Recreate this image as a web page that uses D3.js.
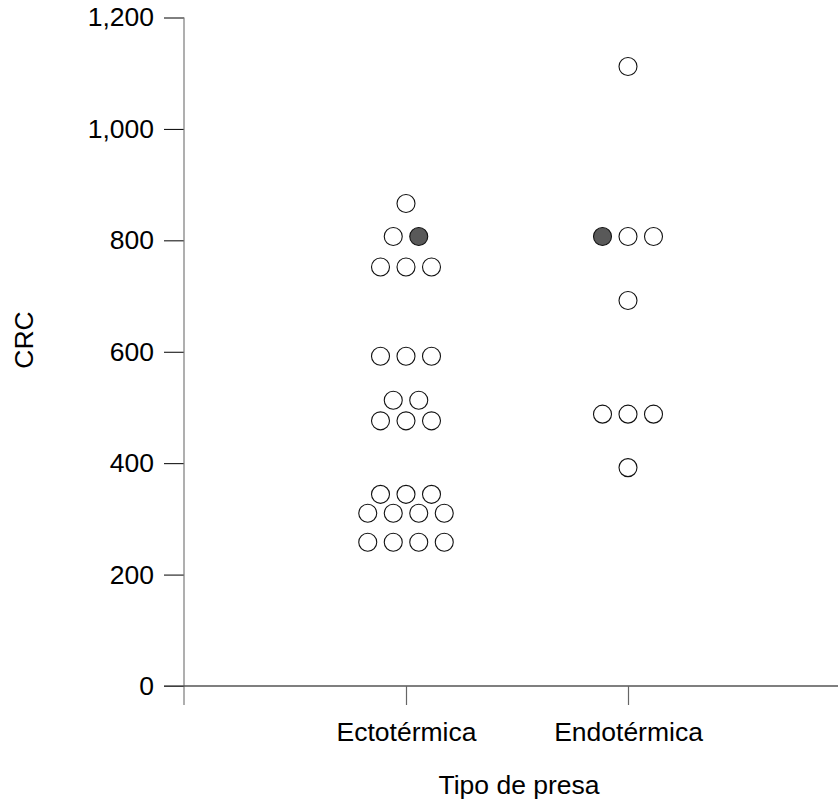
<!DOCTYPE html>
<html>
<head>
<meta charset="utf-8">
<script src="https://cdn.jsdelivr.net/npm/d3@7"></script>
<style>
  html, body { margin: 0; padding: 0; background: #fff; }
  svg { display: block; font-family: "Liberation Sans", Arial, sans-serif; }
</style>
</head>
<body>
<svg id="chart" width="838" height="805"></svg>
<script>
// Prey type categories
const categories = ["Ectotérmica", "Endotérmica"];

// CRC values per category (one entry per individual)
const ectoValues = [866, 807, 807, 752, 752, 752, 592, 592, 592, 513, 513,
                    476, 476, 476, 344, 344, 344, 310, 310, 310, 310,
                    258, 258, 258, 258];
const endoValues = [1112, 807, 807, 807, 692, 488, 488, 488, 392];

// Marked (filled) individuals: 1 = filled, 0 = open
const ectoMarked = [0, 0, 1, 0, 0, 0, 0, 0, 0, 0, 0,
                    0, 0, 0, 0, 0, 0, 0, 0, 0, 0,
                    0, 0, 0, 0];
const endoMarked = [0, 1, 0, 0, 0, 0, 0, 0, 0];

// Y axis ticks
const yTicks = [0, 200, 400, 600, 800, 1000, 1200];

const svg = d3.select("#chart");
const fontSize = 26.5;

const x = d3.scalePoint()
  .domain(categories)
  .range([184, 850])
  .padding(1);

const y = d3.scaleLinear()
  .domain([0, 1200])
  .range([686, 17.5]);

const fmt = d3.format(",");
const dotGap = 25.5;
const r = 9;

// Build the dot list: equal values are laid out side by side, centred on the category
function buildDots(cat, values, marked) {
  const groups = d3.group(values.map((v, i) => ({ v, m: marked[i] })), d => d.v);
  const dots = [];
  for (const [v, arr] of groups) {
    arr.forEach((d, i) => {
      dots.push({ cat, v, m: d.m, off: (i - (arr.length - 1) / 2) * dotGap });
    });
  }
  return dots;
}
const dots = buildDots(categories[0], ectoValues, ectoMarked)
  .concat(buildDots(categories[1], endoValues, endoMarked));

// Y axis
const yAxis = svg.append("g")
  .attr("transform", "translate(184,0)")
  .call(d3.axisLeft(y).tickValues(yTicks).tickFormat(fmt).tickSize(20).tickPadding(10));
yAxis.select(".domain").remove();
yAxis.selectAll(".tick line").attr("stroke", "#000").attr("stroke-width", 1);
yAxis.selectAll(".tick text")
  .attr("font-size", fontSize).attr("fill", "#000")
  .attr("font-family", "'Liberation Sans', Arial, sans-serif");

svg.append("line")
  .attr("x1", 184).attr("x2", 184)
  .attr("y1", y(1200)).attr("y2", 705)
  .attr("stroke", "#7a7a7a").attr("stroke-width", 1.2);

// X axis
svg.append("line")
  .attr("x1", 164).attr("x2", 838)
  .attr("y1", y(0)).attr("y2", y(0))
  .attr("stroke", "#555").attr("stroke-width", 1.5);

const xAxis = svg.append("g")
  .attr("transform", `translate(0,${y(0)})`)
  .call(d3.axisBottom(x).tickSize(19).tickPadding(17));
xAxis.select(".domain").remove();
xAxis.selectAll(".tick line").attr("stroke", "#666").attr("stroke-width", 1.2);
xAxis.selectAll(".tick text")
  .attr("font-size", fontSize).attr("fill", "#000")
  .attr("font-family", "'Liberation Sans', Arial, sans-serif");

// Axis titles
svg.append("text")
  .attr("x", 519).attr("y", 794)
  .attr("text-anchor", "middle")
  .attr("font-size", fontSize)
  .text("Tipo de presa");

svg.append("text")
  .attr("transform", "translate(33,340) rotate(-90)")
  .attr("text-anchor", "middle")
  .attr("font-size", fontSize)
  .text("CRC");

// Dots
svg.append("g")
  .selectAll("circle")
  .data(dots)
  .join("circle")
  .attr("cx", d => x(d.cat) + d.off)
  .attr("cy", d => y(d.v))
  .attr("r", r)
  .attr("fill", d => d.m ? "#595959" : "#fff")
  .attr("stroke", "#111")
  .attr("stroke-width", 1.1);
</script>
</body>
</html>
